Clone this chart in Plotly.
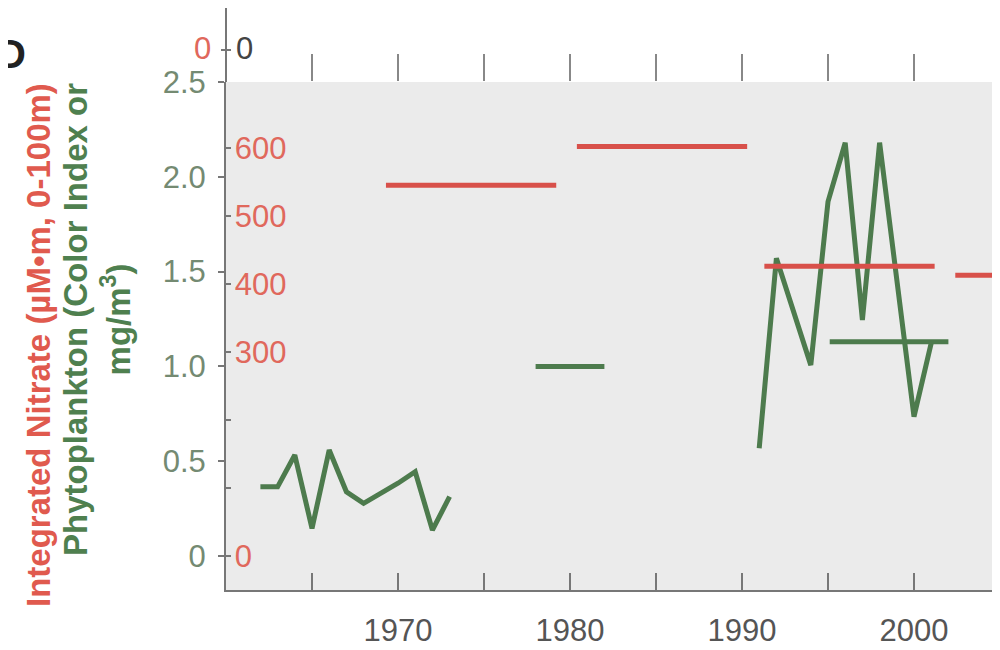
import plotly.graph_objects as go

# ---------------- data ----------------
phyto_early_years = [1962, 1963, 1964, 1965, 1966, 1967, 1968, 1969, 1970, 1971, 1972, 1973]
phyto_early_vals = [0.365, 0.365, 0.533, 0.146, 0.559, 0.339, 0.278, 0.331, 0.384, 0.445, 0.137, 0.313]

phyto_late_years = [1991, 1992, 1994, 1995, 1996, 1997, 1998, 2000, 2001]
phyto_late_vals = [0.568, 1.570, 1.007, 1.869, 2.180, 1.245, 2.180, 0.735, 1.123]

phyto_mean_start = [1978.0, 1995.1]
phyto_mean_end = [1982.0, 2002.0]
phyto_mean_vals = [1.0, 1.13]

nitrate_start = [1969.3, 1980.4, 1991.3, 2002.4]
nitrate_end = [1979.2, 1990.3, 2001.2, 2004.6]
nitrate_vals = [545, 602, 426, 413]

x_tickvals = [1965, 1970, 1975, 1980, 1985, 1990, 1995, 2000]
x_ticktext = ["", "1970", "", "1980", "", "1990", "", "2000"]
phyto_tickvals = [0, 0.5, 1.0, 1.5, 2.0, 2.5]
phyto_ticktext = ["0", "0.5", "1.0", "1.5", "2.0", "2.5"]
nitrate_tickvals = [0, 100, 200, 300, 400, 500, 600]
nitrate_ticktext = ["0", "", "", "300", "400", "500", "600"]

# ---------------- style ----------------
RED = "#d8504a"
RED_TXT = "#e0685c"
GREEN = "#4d7b4d"
GREEN_TXT = "#748a72"
AXIS = "#777777"
FONT = "Liberation Sans"

# the page body has an 8px margin, so figure pixel = page pixel - 8
OFF = 8
W, H = 1000, 650
ML = 226 - OFF
MT = 82 - OFF
MB = H - (590 - OFF)
MR = W - (1000 - OFF)
PW = W - ML - MR
PH = H - MT - MB


def px_x(page_px):
    return (page_px - OFF - ML) / PW


def px_y(page_py):
    return (H - MB - (page_py - OFF)) / PH


fig = go.Figure()

fig.add_trace(go.Scatter(x=phyto_early_years, y=phyto_early_vals, mode="lines",
                         line=dict(color=GREEN, width=5), xaxis="x", yaxis="y"))
fig.add_trace(go.Scatter(x=phyto_late_years, y=phyto_late_vals, mode="lines",
                         line=dict(color=GREEN, width=5), xaxis="x", yaxis="y"))
for s, e, v in zip(phyto_mean_start, phyto_mean_end, phyto_mean_vals):
    fig.add_trace(go.Scatter(x=[s, e], y=[v, v], mode="lines",
                             line=dict(color=GREEN, width=5), xaxis="x", yaxis="y"))
for s, e, v in zip(nitrate_start, nitrate_end, nitrate_vals):
    fig.add_trace(go.Scatter(x=[s, e], y=[v, v], mode="lines",
                             line=dict(color=RED, width=5), xaxis="x2", yaxis="y2"))

tickfont = dict(family=FONT, size=31)

fig.update_layout(
    width=W, height=H,
    margin=dict(l=ML, r=MR, t=MT, b=MB, autoexpand=False),
    paper_bgcolor="white",
    plot_bgcolor="#ebebeb",
    showlegend=False,
    xaxis=dict(range=[1960, 2005], tickvals=x_tickvals, ticktext=x_ticktext,
               ticks="inside", ticklen=17, tickwidth=2, tickcolor=AXIS,
               showline=True, linecolor=AXIS, linewidth=2, showgrid=False,
               zeroline=False, tickfont=dict(tickfont, color="#555555"),
               ticklabelstandoff=12, automargin=False),
    xaxis2=dict(range=[1960, 2005], overlaying="x", side="top", anchor="y2",
                tickvals=x_tickvals, ticks="outside", ticklen=27, tickwidth=2,
                tickcolor="#888888", showticklabels=False, showline=False,
                showgrid=False, zeroline=False, automargin=False),
    yaxis=dict(range=[-0.179, 2.5], tickvals=phyto_tickvals, ticktext=phyto_ticktext,
               ticks="outside", ticklen=6, tickwidth=2, tickcolor=AXIS,
               showline=True, linecolor=AXIS, linewidth=2, showgrid=False,
               zeroline=False, tickfont=dict(tickfont, color=GREEN_TXT),
               ticklabelstandoff=6, automargin=False),
    yaxis2=dict(range=[-50, 697], overlaying="y", side="left", anchor="x2",
                tickvals=nitrate_tickvals, ticktext=nitrate_ticktext,
                ticks="inside", ticklen=5, tickwidth=2, tickcolor=AXIS,
                ticklabelposition="inside", ticklabelstandoff=7,
                showline=False, showgrid=False,
                zeroline=False, tickfont=dict(tickfont, color=RED_TXT),
                automargin=False),
)

# axis extension into the upper (broken) panel
fig.add_shape(type="line", xref="paper", yref="paper",
              x0=0, x1=0, y0=1, y1=px_y(8), line=dict(color=AXIS, width=2))
fig.add_shape(type="line", xref="paper", yref="paper",
              x0=px_x(221), x1=px_x(231), y0=px_y(50), y1=px_y(50),
              line=dict(color=AXIS, width=2))

ann = []
ann.append(dict(text="0", x=px_x(202), y=px_y(49), xref="paper", yref="paper",
                showarrow=False, xanchor="center", yanchor="middle",
                font=dict(family=FONT, size=31, color=RED_TXT)))
ann.append(dict(text="0", x=px_x(244), y=px_y(49), xref="paper", yref="paper",
                showarrow=False, xanchor="center", yanchor="middle",
                font=dict(family=FONT, size=31, color="#444444")))
ann.append(dict(text="D", x=px_x(-5), y=px_y(54), xref="paper", yref="paper",
                showarrow=False, xanchor="left", yanchor="middle",
                font=dict(family=FONT, size=40, color="#222222", weight="bold")))
ann.append(dict(text="Integrated Nitrate (µM•m, 0-100m)", textangle=-90,
                x=px_x(38), y=px_y(345), xref="paper", yref="paper",
                showarrow=False, xanchor="center", yanchor="middle",
                font=dict(family=FONT, size=33, color="#e05a4e", weight="bold")))
ann.append(dict(text="Phytoplankton (Color Index or<br>mg/m<sup>3</sup>)", textangle=-90,
                x=px_x(97), y=px_y(320), xref="paper", yref="paper",
                showarrow=False, xanchor="center", yanchor="middle",
                font=dict(family=FONT, size=33, color="#4f804f", weight="bold")))
fig.update_layout(annotations=ann)

fig.write_html("out.html")
